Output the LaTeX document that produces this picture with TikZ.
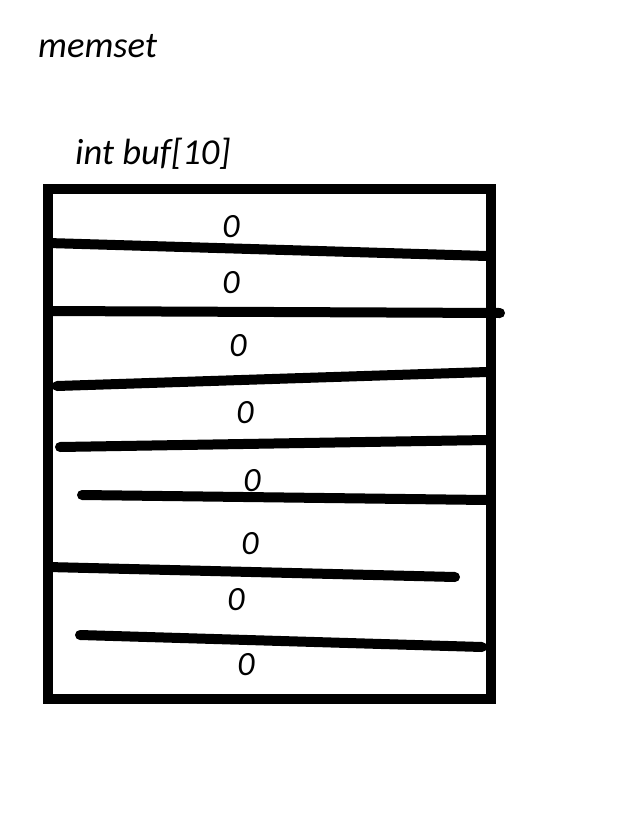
\documentclass[tikz,border=0pt]{standalone}
\usepackage{fontspec}
\setmainfont{Carlito}
\begin{document}
\begin{tikzpicture}[x=1pt,y=-1pt,
  lbl/.style={font=\fontsize{36.5}{40}\selectfont\itshape, inner sep=0pt, anchor=base west},
  zero/.style={font=\fontsize{34}{38}\selectfont\itshape, inner sep=0pt},
  stroke/.style={line width=10pt, line cap=round},
  frame/.style={line width=10pt}]
\useasboundingbox[fill=white] (0,0) rectangle (628,814);
\node[lbl] (title) at (38,57) {memset};
\node[lbl] (decl) at (75,164) {int buf[10]};
\draw[frame] (48,189) rectangle (491,699);
\draw[stroke] (48,243) -- (487,256);
\draw[stroke] (50,311) -- (500,313);
\draw[stroke] (57,386) -- (487,372);
\draw[stroke] (60,447) -- (487,440);
\draw[stroke] (82,495) -- (487,500);
\draw[stroke] (48,567) -- (455,577);
\draw[stroke] (80,635) -- (482,647);
\node[zero] (z1) at (231,227) {0};
\node[zero] (z2) at (231,283) {0};
\node[zero] (z3) at (238,346) {0};
\node[zero] (z4) at (245,413) {0};
\node[zero] (z5) at (252,481) {0};
\node[zero] (z6) at (250,544) {0};
\node[zero] (z7) at (236,600) {0};
\node[zero] (z8) at (246,665) {0};
\end{tikzpicture}
\end{document}
